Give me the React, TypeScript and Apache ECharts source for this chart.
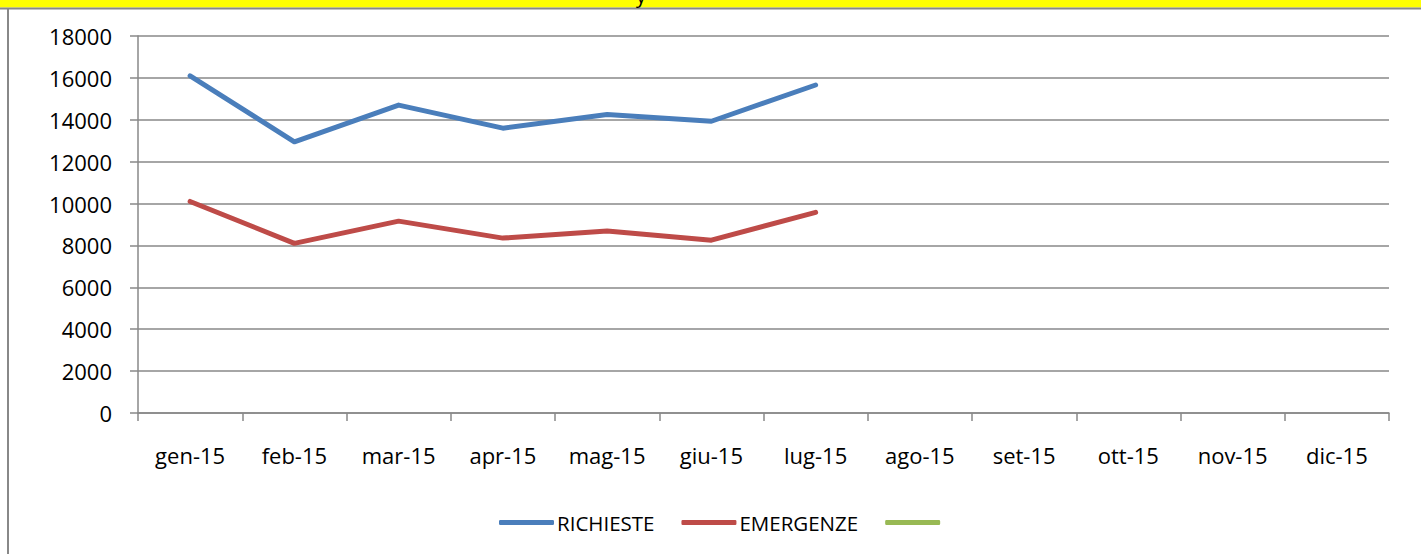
import React, { useEffect, useRef } from "react";
import * as echarts from "echarts";

const categories = ["gen-15", "feb-15", "mar-15", "apr-15", "mag-15", "giu-15", "lug-15", "ago-15", "set-15", "ott-15", "nov-15", "dic-15"];
const richieste = [16100, 12950, 14700, 13600, 14250, 13930, 15660, null, null, null, null, null];
const emergenze = [10100, 8100, 9160, 8350, 8690, 8250, 9580, null, null, null, null, null];
const terza: (number | null)[] = [null, null, null, null, null, null, null, null, null, null, null, null];
const yTicks = { min: 0, max: 18000, interval: 2000 };

export default function App() {
  const ref = useRef<HTMLDivElement>(null);
  useEffect(() => {
    document.body.style.margin = "0";
    const chart = echarts.init(ref.current!, null, { renderer: "svg" });
    const font = "'Open Sans', sans-serif";
    chart.setOption({
      animation: false,
      backgroundColor: "#ffffff",
      grid: { left: 138, right: 32, top: 36, bottom: 141, containLabel: false },
      legend: {
        bottom: 21,
        left: 499,
        padding: 0,
        itemWidth: 55,
        itemHeight: 5,
        itemGap: 27,
        icon: "roundRect",
        textStyle: { fontFamily: font, fontSize: 20.5, color: "#000", padding: [0, 0, 0, -2] },
        data: ["RICHIESTE", "EMERGENZE", " "],
      },
      xAxis: {
        type: "category",
        data: categories,
        boundaryGap: true,
        axisLine: { lineStyle: { color: "#888888", width: 1.5 } },
        axisTick: { show: true, length: 8, lineStyle: { color: "#888888", width: 1.5 }, alignWithLabel: false },
        axisLabel: { margin: 31, fontFamily: font, fontSize: 22, color: "#000" },
        splitLine: { show: false },
      },
      yAxis: {
        type: "value",
        min: yTicks.min,
        max: yTicks.max,
        interval: yTicks.interval,
        axisLine: { show: true, lineStyle: { color: "#888888", width: 1.5 } },
        axisTick: { show: true, length: 8, lineStyle: { color: "#888888", width: 1.5 } },
        axisLabel: { margin: 26, fontFamily: font, fontSize: 22, color: "#000", formatter: (v: number) => String(v) },
        splitLine: { show: true, lineStyle: { color: "#888888", width: 1.5 } },
      },
      series: [
        {
          name: "RICHIESTE",
          type: "line",
          data: richieste,
          symbol: "none",
          color: "#4A7EBB",
          lineStyle: { width: 5, cap: "round", join: "round" },
        },
        {
          name: "EMERGENZE",
          type: "line",
          data: emergenze,
          symbol: "none",
          color: "#BE4B48",
          lineStyle: { width: 5, cap: "round", join: "round" },
        },
        {
          name: " ",
          type: "line",
          data: terza,
          symbol: "none",
          color: "#98B954",
          lineStyle: { width: 5 },
        },
      ],
      graphic: [
        { type: "rect", shape: { x: 0, y: 0, width: 1421, height: 7.5 }, style: { fill: "#FFFF00" }, z: 100 },
        { type: "rect", shape: { x: 0, y: 7.5, width: 1421, height: 2 }, style: { fill: "#888888" }, z: 100 },
        { type: "rect", shape: { x: 7, y: 8, width: 2, height: 546 }, style: { fill: "#888888" }, z: 100 },
        {
          type: "text",
          z: 101,
          style: { text: "y", x: 636, y: 5, verticalAlign: "bottom", font: "20px 'Open Sans', sans-serif", fill: "#000" },
        },
      ],
    });
    return () => chart.dispose();
  }, []);
  return <div ref={ref} style={{ width: 1421, height: 554 }} />;
}
